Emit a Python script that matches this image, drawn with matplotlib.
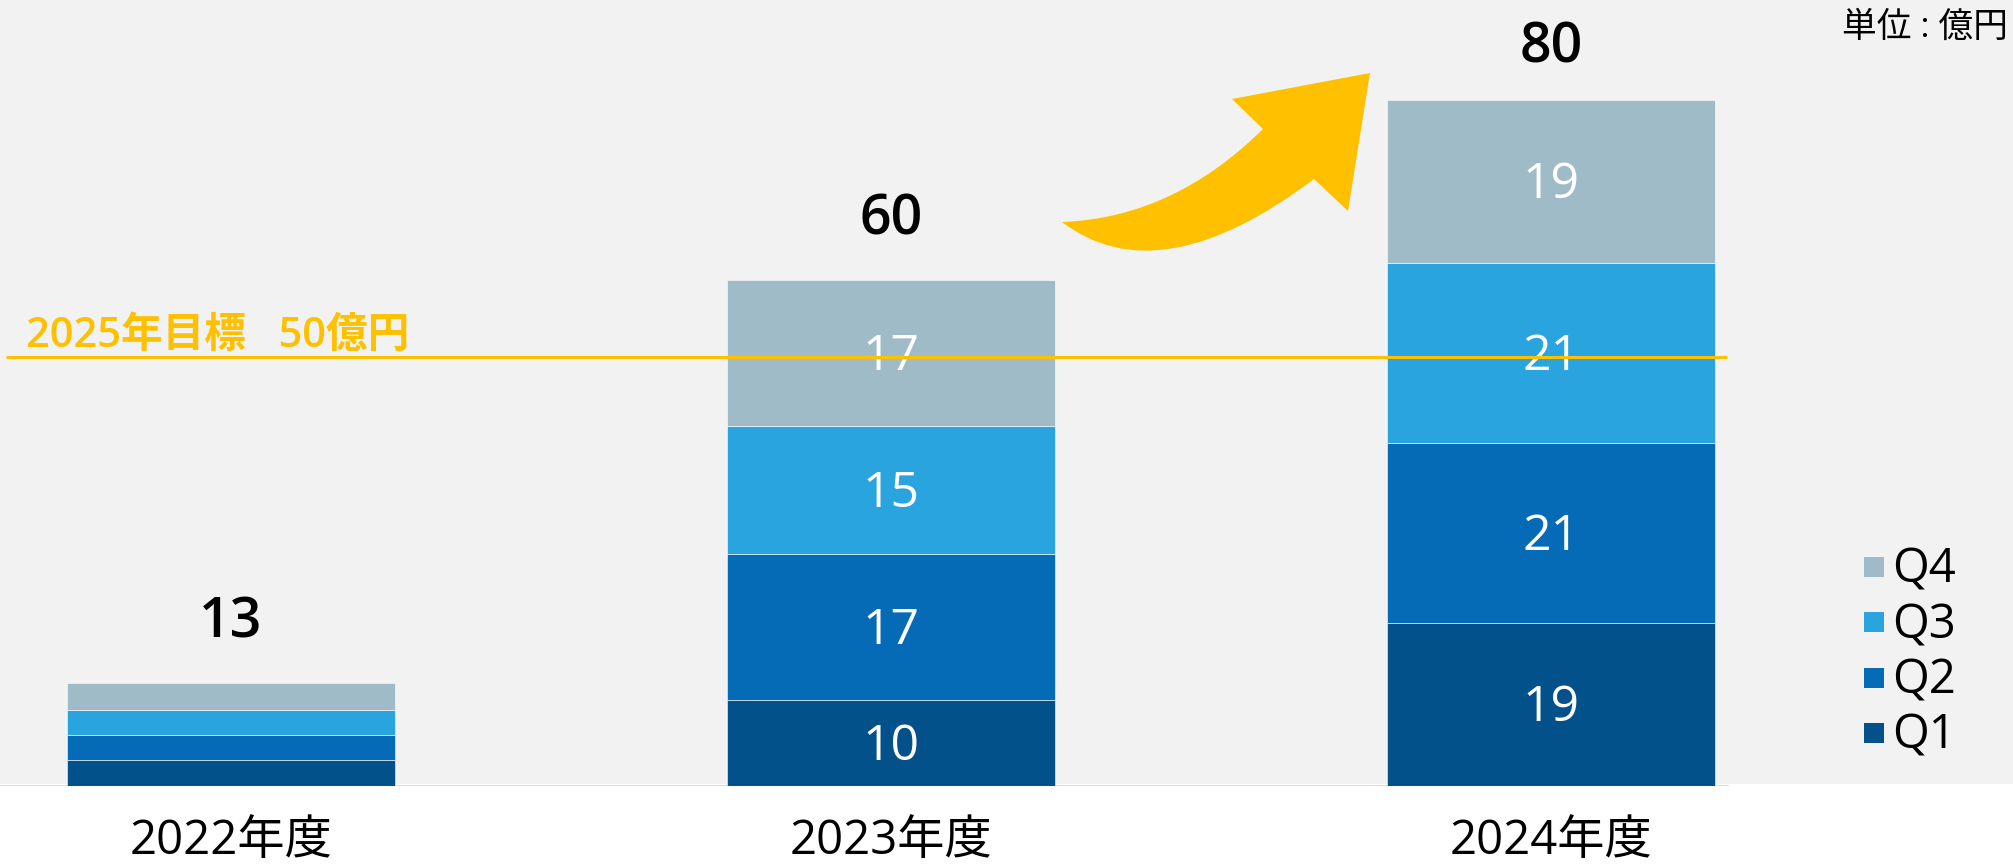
import numpy as np
import matplotlib
matplotlib.use("Agg")
import matplotlib.pyplot as plt
from matplotlib.patches import Rectangle, PathPatch
from matplotlib.path import Path

plt.rcParams['font.family'] = ['Open Sans', 'Noto Sans CJK JP', 'DejaVu Sans']

# quarterly sales per fiscal year (億円)
years = ["2022年度", "2023年度", "2024年度"]
q1 = [3.0, 10, 19]
q2 = [2.9, 17, 21]
q3 = [3.0, 15, 21]
q4 = [3.1, 17, 19]
totals = [13, 60, 80]
show_segment_labels = [False, True, True]
target = 50
target_label = "2025年目標   50億円"
quarters = ["Q1", "Q2", "Q3", "Q4"]
colors = ["#02518A", "#066BB7", "#29A4DF", "#A0BBC8"]

W, H = 2013, 864
fig = plt.figure(figsize=(W / 100, H / 100), dpi=100)
fig.patch.set_facecolor("white")

# light grey panel behind the plot area
fig.patches.append(Rectangle((0, (H - 784) / H), 1, 784 / H, transform=fig.transFigure,
                             facecolor="#F2F2F2", edgecolor="none", zorder=-10))

base_px = 786
ax = fig.add_axes([0, (H - base_px) / H, 1731 / W, base_px / H])
ax.set_facecolor("none")
ax.set_xlim(-0.35, 2.273)
ax.set_ylim(0, base_px / 8.576)
ax.axis("off")

x = np.arange(len(years))
series = [q1, q2, q3, q4]
bottom = np.zeros(len(years))
for vals, c, name in zip(series, colors, quarters):
    vals = np.array(vals, dtype=float)
    ax.bar(x, vals, width=0.497, bottom=bottom, color=c, edgecolor="white",
           linewidth=0.4, zorder=3)
    for i in range(len(years)):
        if show_segment_labels[i]:
            ax.annotate(f"{vals[i]:.0f}", xy=(x[i], bottom[i] + vals[i] / 2),
                        xytext=(0, -3), textcoords="offset points", color="white",
                        fontsize=36, ha="center", va="center", zorder=4)
    bottom += vals

# totals above each bar
for i, t in enumerate(totals):
    ax.annotate(f"{t}", xy=(x[i], t), xytext=(0, 37), textcoords="offset points",
                ha="center", va="center", fontsize=40, fontweight="semibold", color="black")

# category labels under the baseline
for i, lab in enumerate(years):
    ax.annotate(lab, xy=(x[i], 0), xytext=(0, -40), textcoords="offset points",
                ha="center", va="center", fontsize=34, color="black", annotation_clip=False)

ax.axhline(0, xmin=0, xmax=1727 / 1731, color="#D9D9D9", linewidth=2, zorder=2)

# target line
ax.hlines(target, -0.341, 2.267, color="#FFC000", linewidth=2.2, zorder=5)
ax.annotate(target_label, xy=(-0.311, target), xytext=(0, 15), textcoords="offset points",
            ha="left", va="center", fontsize=30, fontweight="semibold", color="#FFC000")

# growth arrow drawn in figure pixel space
ov = fig.add_axes([0, 0, 1, 1])
ov.set_xlim(0, W)
ov.set_ylim(H, 0)
ov.axis("off")
ov.set_facecolor("none")
verts = [(1062, 222), (1173, 218), (1263, 129), (1232, 99), (1370, 73),
         (1348, 211), (1314, 179), (1159, 296), (1062, 222)]
codes = [Path.MOVETO, Path.CURVE3, Path.CURVE3, Path.LINETO, Path.LINETO,
         Path.LINETO, Path.LINETO, Path.CURVE3, Path.CURVE3]
ov.add_patch(PathPatch(Path(verts, codes), facecolor="#FFC000", edgecolor="none"))

# legend, Q4 on top
for k, (name, c) in enumerate(zip(quarters[::-1], colors[::-1])):
    yc = 567 + k * 55.3
    ov.add_patch(Rectangle((1864, yc - 10), 20, 20, facecolor=c, edgecolor="none"))
    ov.text(1892, yc + 3, name, fontsize=34, ha="left", va="center", color="black")

ov.text(2008, 28, "単位 : 億円", fontsize=25, ha="right", va="center", color="black")

fig.savefig("out.png", dpi=100)
